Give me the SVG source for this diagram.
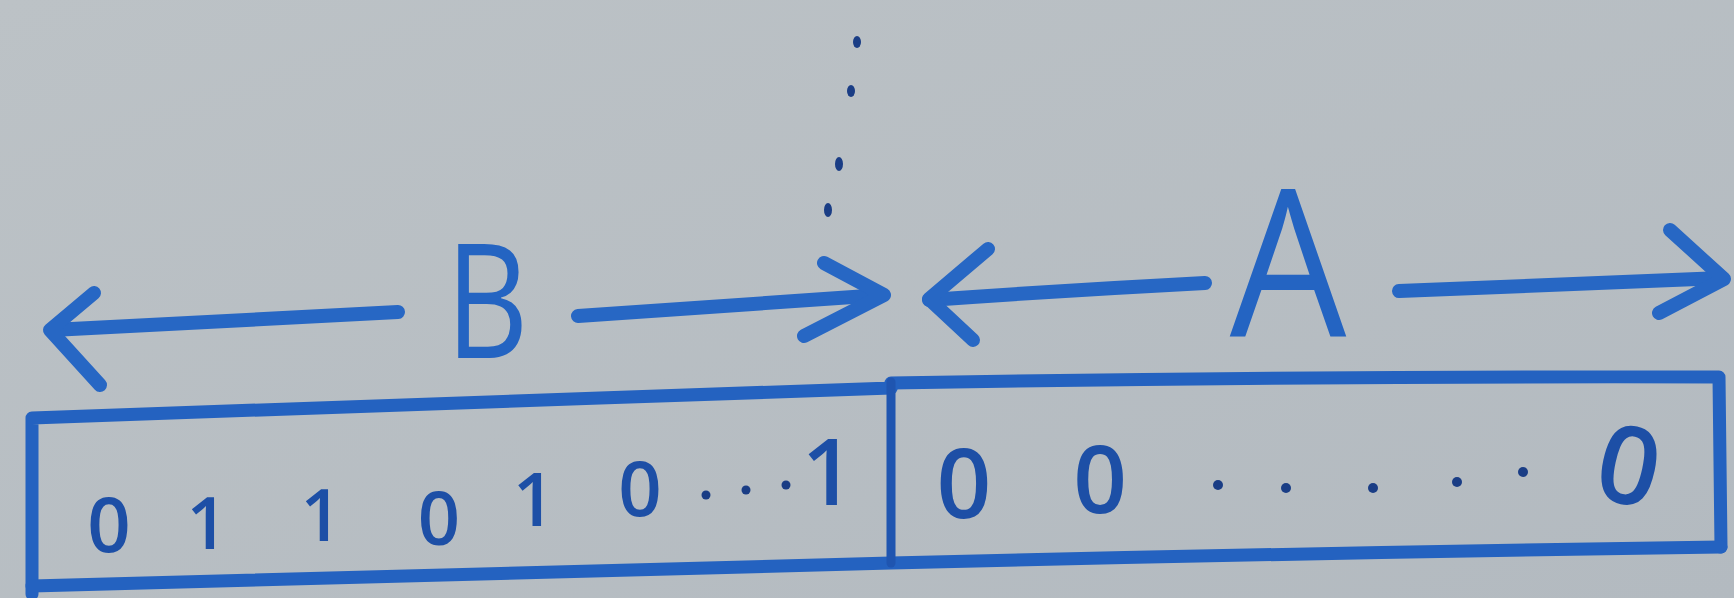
<svg xmlns="http://www.w3.org/2000/svg" width="1734" height="598" viewBox="0 0 1734 598">
<defs>
<linearGradient id="bg" x1="0" y1="0" x2="1" y2="1">
<stop offset="0" stop-color="#bcc2c6"/>
<stop offset="1" stop-color="#b3bac0"/>
</linearGradient>
<style>
.ink{fill:none;stroke:#2767c4;stroke-width:14;stroke-linecap:round;stroke-linejoin:round}
.box{fill:none;stroke:#2462c0;stroke-width:13;stroke-linecap:round;stroke-linejoin:round}
.thin{fill:none;stroke:#1f55b0;stroke-width:9;stroke-linecap:round;stroke-linejoin:round}
.dig{font-family:"Open Sans","Liberation Sans",sans-serif;font-weight:600;fill:#1d4fa6;text-anchor:middle}
.lab{font-family:"Open Sans","Liberation Sans",sans-serif;fill:#2464c2;text-anchor:middle}
.dot{fill:#1a3d85}
</style>
</defs>
<rect width="1734" height="598" fill="url(#bg)"/>

<g id="divider-dots">
<ellipse class="dot" cx="857" cy="42" rx="4" ry="6"/>
<ellipse class="dot" cx="851" cy="91" rx="4" ry="6"/>
<ellipse class="dot" cx="839" cy="164" rx="4" ry="7"/>
<ellipse class="dot" cx="828" cy="210" rx="4" ry="7"/>
</g>

<g id="register">
<path class="box" d="M32 594 L32 418 Q300 408 600 398 T891 388"/>
<path class="box" d="M891 383 Q1300 376 1719 377 L1721 547"/>
<path class="box" d="M1721 547 Q1300 553 891 563 Q460 576 32 586"/>
<path class="thin" d="M891 382 L891 563"/>
</g>

<g id="cell-B">
<text class="dig" x="109" y="552" font-size="76">0</text>
<text class="dig" x="207" y="549" font-size="72">1</text>
<text class="dig" x="321" y="541" font-size="72">1</text>
<text class="dig" x="439" y="545" font-size="74">0</text>
<text class="dig" x="534" y="526" font-size="74">1</text>
<text class="dig" x="640" y="516" font-size="76">0</text>
<circle class="dot" cx="706" cy="495" r="4.5"/>
<circle class="dot" cx="746" cy="490" r="4.5"/>
<circle class="dot" cx="786" cy="485" r="4.5"/>
<text class="dig" x="828" y="505" font-size="92">1</text>
</g>

<g id="cell-A">
<text class="dig" x="964" y="518" font-size="96">0</text>
<text class="dig" x="1100" y="513" font-size="94">0</text>
<circle class="dot" cx="1218" cy="485" r="5"/>
<circle class="dot" cx="1286" cy="488" r="5"/>
<circle class="dot" cx="1373" cy="488" r="5"/>
<circle class="dot" cx="1457" cy="482" r="5"/>
<circle class="dot" cx="1523" cy="472" r="5"/>
<text class="dig" x="1629" y="504" font-size="108" transform="rotate(12 1629 465)">0</text>
</g>

<g id="label-B">
<text class="lab" x="487" y="358" font-size="160" transform="translate(487 0) scale(0.8 1) translate(-487 0)">B</text>
</g>
<g id="label-A">
<text class="lab" x="1288" y="337" font-size="205" transform="translate(1288 0) scale(0.9 1) translate(-1288 0)">A</text>
</g>

<g id="connectors">
<path class="ink" d="M398 312 Q230 320 52 330"/>
<path class="ink" d="M94 293 L50 330 L100 385"/>
<path class="ink" d="M578 316 Q730 306 882 295"/>
<path class="ink" d="M824 263 L884 295 L804 336"/>
<path class="ink" d="M1205 283 Q1070 290 929 300"/>
<path class="ink" d="M988 249 L929 299 L973 340"/>
<path class="ink" d="M1399 291 Q1560 285 1722 278"/>
<path class="ink" d="M1670 230 L1724 279 L1659 313"/>
</g>
</svg>
